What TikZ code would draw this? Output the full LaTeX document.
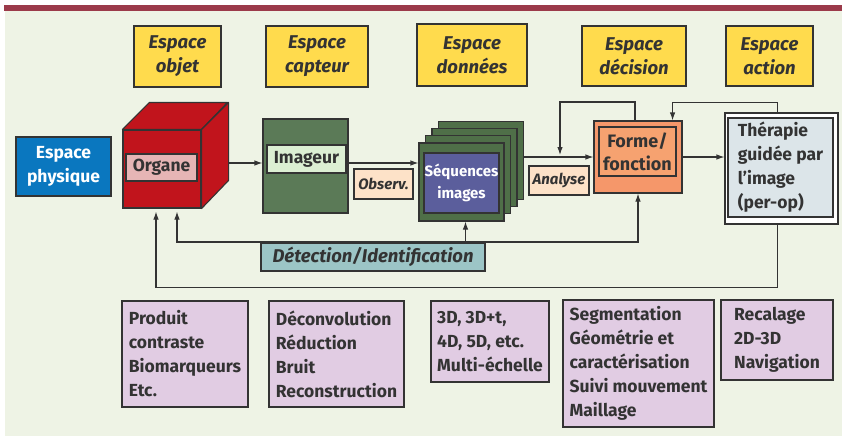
\documentclass[tikz,border=0pt]{standalone}
\usepackage{fontspec}
\setmainfont{Fira Sans}
\usetikzlibrary{arrows.meta, positioning}

\definecolor{fond}{HTML}{EEF3E5}
\definecolor{bandeau}{HTML}{9B3A4A}
\definecolor{trait}{HTML}{333333}
\definecolor{jaune}{HTML}{FFDB4D}
\definecolor{bleu}{HTML}{0A77BF}
\definecolor{rouge}{HTML}{C1141C}
\definecolor{rose}{HTML}{E6B5B5}
\definecolor{vert}{HTML}{5B7A57}
\definecolor{vertclair}{HTML}{DCEFD3}
\definecolor{vertfonce}{HTML}{4F6F48}
\definecolor{indigo}{HTML}{5B5E9C}
\definecolor{peche}{HTML}{FDE2C8}
\definecolor{orange}{HTML}{F5976A}
\definecolor{orangeclair}{HTML}{F6A270}
\definecolor{gris}{HTML}{DCE5E9}
\definecolor{turquoise}{HTML}{9CC5C6}
\definecolor{lavande}{HTML}{E1CCE3}

\begin{document}
\begin{tikzpicture}[
        x=1pt, y=-1pt,
        every node/.style={draw=trait, line width=1.1pt, inner sep=0pt, align=center, text=trait,
            font=\fontsize{17.5}{24}\selectfont\bfseries},
        boite/.style 2 args={minimum width=#1pt, minimum height=#2pt},
        espace/.style={fill=jaune, font=\fontsize{18.5}{24}\selectfont\bfseries\itshape},
        etiquette/.style={fill=peche, font=\fontsize{15}{20}\selectfont\bfseries\itshape},
        cadre/.style={fill=vertfonce, boite={85}{78}},
        liste/.style={fill=lavande, align=left},
        arrow/.style={-{Latex[length=8pt,width=5.5pt]}, line width=1.1pt, draw=trait}
    ]

    % Fond et bandeau
    \useasboundingbox (0,0) rectangle (842,436);
    \fill[fond] (5,11) rectangle (842,436);
    \fill[bandeau] (4,5) rectangle (842,11);

    % Espaces
    \node[espace, boite={87}{61}] (objet) at (177.5,56.5) {Espace\\objet};
    \node[espace, boite={102}{61}] (capteur) at (317,56.5) {Espace\\capteur};
    \node[espace, boite={110}{62}] (donnees) at (472,55) {Espace\\données};
    \node[espace, boite={104}{60}] (decision) at (634,56) {Espace\\décision};
    \node[espace, boite={87}{60}] (action) at (769.5,56) {Espace\\action};
    \node[fill=bleu, text=white, boite={95}{59}] (physique) at (63.5,166.5) {Espace\\physique};

    % Cube
    \node[fill=rouge, boite={78}{78}] (cube) at (162,169) {};
    \filldraw[fill=rouge, draw=trait, line width=1.1pt, line join=round]
        (cube.north west) -- ++(27,-27) -- ++(78,0) -- (cube.north east) -- cycle;
    \filldraw[fill=rouge, draw=trait, line width=1.1pt, line join=round]
        (cube.north east) -- ++(27,-27) -- ++(0,78) -- (cube.south east) -- cycle;
    \node[fill=rose, boite={71}{27}] (organe) at (161.5,167.5) {Organe};

    % Imageur
    \node[fill=vert, boite={85}{94}] (imageur) at (305.5,166) {};
    \node[fill=vertclair, boite={79}{28}] (imglabel) at (306.5,159) {Imageur};
    \node[etiquette, boite={59}{30}] (observ) at (383.5,184) {Observ.};

    % Sequences
    \foreach \k in {3,2,1}
        \node[cadre] (seq\k) at (461.5+6.5*\k, 182-7.3*\k) {};
    \node[cadre] (seq) at (461.5,182) {};
    \node[fill=indigo, text=white, boite={75}{60}, font=\fontsize{15}{22}\selectfont\bfseries]
        (seqimg) at (461.5,183) {Séquences\\images};
    \node[etiquette, boite={60}{29}] (analyse) at (559,180.5) {Analyse};

    % Decision et action
    \node[fill=orange, boite={88}{72}] (forme) at (638,157) {};
    \node[fill=orangeclair, boite={77}{49}, font=\fontsize{18}{23}\selectfont\bfseries]
        (formelabel) at (637.5,151.5) {Forme/\\fonction};
    \node[fill=white, boite={113}{111}] (therapie) at (781.5,168.5) {};
    \node[fill=gris, boite={105}{99}, align=left] (therlabel) at (780.5,167.5)
        {Thérapie\\guidée par\\l’image\\(per-op)};

    \node[fill=turquoise, boite={224}{28}, font=\fontsize{18.5}{24}\selectfont\bfseries\itshape]
        (detection) at (373,257) {Détection/Identification};

    % Listes
    \node[liste, boite={126}{106}] (produit) at (185,354) {Produit\\contraste\\Biomarqueurs\\Etc.};
    \node[liste, boite={135}{106}] (deconv) at (336.5,354) {Déconvolution\\Réduction\\Bruit\\Reconstruction};
    \node[liste, boite={118}{81}] (multi) at (490,341.5) {3D, 3D+t,\\4D, 5D, etc.\\Multi-échelle};
    \node[liste, boite={151}{127}] (segm) at (638.5,363.5) {Segmentation\\Géométrie et\\caractérisation\\Suivi mouvement\\Maillage};
    \node[liste, boite={112}{80}] (recal) at (777,340) {Recalage\\2D-3D\\Navigation};

    % Arrows
    \draw[arrow] ([xshift=27pt,yshift=6pt]cube.east) -- ([yshift=6pt]cube.east -| imageur.west);
    \draw[arrow] ([yshift=3pt]imageur.east) -- ([yshift=3pt]imageur.east -| seq.west);
    \draw[arrow] (forme.west -| seq3.east) -- (forme.west);
    \draw[arrow] (forme.east) -- (forme.east -| therapie.west);

    % Boucles
    \coordinate (anatop) at (560,102);
    \draw[arrow] ([xshift=-3pt]forme.north) |- (anatop) -- ([yshift=2pt]anatop |- forme.west);
    \draw[arrow] ([xshift=-4pt]therapie.north) -- ++(0,-10) -| ([xshift=-10pt]forme.north east);
    \draw[arrow] ([xshift=-4pt]therapie.south) -- ++(0,63) -| ([xshift=-6pt,yshift=-3pt]cube.south);

    % Detection
    \coordinate (busR) at (638,242);
    \draw[{Latex[length=8pt,width=5.5pt]}-{Latex[length=8pt,width=5.5pt]}, line width=1.1pt, draw=trait]
        ([xshift=15pt,yshift=-3pt]cube.south) |- (busR) -- (forme.south);
    \draw[arrow] ([xshift=4pt]seq.south |- busR) -- ([xshift=4pt]seq.south);

\end{tikzpicture}
\end{document}
